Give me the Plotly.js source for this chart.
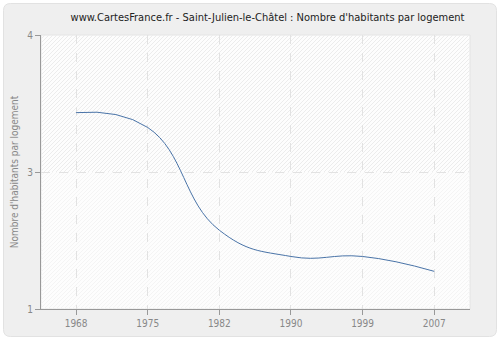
<!DOCTYPE html>
<html>
<head>
<meta charset="utf-8">
<script src="https://cdn.plot.ly/plotly-3.0.1.min.js"></script>
<style>html,body{margin:0;padding:0;background:#fff;}#chart{width:500px;height:340px;}</style>
</head>
<body>
<div id="chart"></div>
<script>
// Data
const years = ['1968', '1975', '1982', '1990', '1999', '2007'];
const habitantsParLogement = [3.12, 2.99, 2.09, 1.86, 1.86, 1.73];
const yTickVals = [1.4, 2.6, 3.8];
const yTickText = ['1', '3', '4'];

const W = 500, H = 340;
const M = {l: 41, r: 30, t: 35, b: 31};
const PW = W - M.l - M.r, PH = H - M.t - M.b;
const xRange = [-0.49, 5.5];
const yRange = [1.4, 3.8];

// pixel -> paper / data helpers (for decorative shapes only)
const px2paperX = px => (px - M.l) / PW;
const py2paperY = py => (H - M.b - py) / PH;
const px2x = px => xRange[0] + (px - M.l) / PW * (xRange[1] - xRange[0]);
const py2y = py => yRange[0] + (H - M.b - py) / PH * (yRange[1] - yRange[0]);

const shapes = [];
// rounded outer panel
(function(){
  const x0 = 3.5, x1 = 496.5, y0 = 3.5, y1 = 336.5, r = 7;
  const X = px2paperX, Y = py2paperY;
  const p = `M ${X(x0+r)},${Y(y0)} L ${X(x1-r)},${Y(y0)} Q ${X(x1)},${Y(y0)} ${X(x1)},${Y(y0+r)} ` +
            `L ${X(x1)},${Y(y1-r)} Q ${X(x1)},${Y(y1)} ${X(x1-r)},${Y(y1)} ` +
            `L ${X(x0+r)},${Y(y1)} Q ${X(x0)},${Y(y1)} ${X(x0)},${Y(y1-r)} ` +
            `L ${X(x0)},${Y(y0+r)} Q ${X(x0)},${Y(y0)} ${X(x0+r)},${Y(y0)} Z`;
  shapes.push({type:'path', xref:'paper', yref:'paper', path:p, fillcolor:'#efefef',
               line:{color:'#e2e2e2', width:1}, layer:'below'});
})();
// plot area background with light border
shapes.push({type:'rect', xref:'paper', yref:'paper', x0:0, x1:1, y0:0, y1:1,
             fillcolor:'#fdfdfd', line:{color:'#e4e4e4', width:1}, layer:'below'});
// hatch pattern in plot area
const midPy = M.t + PH / 2;
function hatch(pyTop, pyBot, color) {
  const h = pyBot - pyTop;
  for (let px = M.l - h; px < W - M.r; px += 4) {
    shapes.push({type:'line', xref:'x', yref:'y', x0:px2x(px), y0:py2y(pyBot), x1:px2x(px+h), y1:py2y(pyTop),
                 line:{color:color, width:1}, layer:'below'});
  }
}
hatch(M.t, midPy, '#ececec');
hatch(midPy, H - M.b, '#f4f4f4');

const trace = {
  x: years, y: habitantsParLogement, type:'scatter', mode:'lines',
  line:{shape:'spline', smoothing:1.3, color:'#4a74a8', width:1},
  hoverinfo:'skip'
};

const font = '"DejaVu Sans Condensed", "DejaVu Sans", sans-serif';
const layout = {
  width: W, height: H,
  margin: M,
  paper_bgcolor: '#ffffff',
  plot_bgcolor: 'rgba(0,0,0,0)',
  showlegend: false,
  title: {text: "www.CartesFrance.fr - Saint-Julien-le-Châtel : Nombre d'habitants par logement",
          font:{family: font, size: 11, color:'#222'},
          x: px2paperX(267.5), xref:'paper', xanchor:'center', y: 1 - 17/H, yanchor:'middle'},
  xaxis: {
    type:'category', range: xRange,
    showgrid:true, gridcolor:'#e2e2e2', griddash:'dash', gridwidth:1,
    showline:true, linecolor:'#999', linewidth:1,
    ticks:'outside', ticklen:5, tickcolor:'#999',
    tickfont:{family: font, size: 10, color:'#888'},
    zeroline:false, fixedrange:true
  },
  yaxis: {
    range: yRange, tickmode:'array', tickvals: yTickVals, ticktext: yTickText,
    showgrid:true, gridcolor:'#e2e2e2', griddash:'dash', gridwidth:1,
    showline:true, linecolor:'#999', linewidth:1,
    ticks:'outside', ticklen:5, tickcolor:'#999',
    tickfont:{family: font, size: 10, color:'#888'},
    title:{text:"Nombre d'habitants par logement", font:{family: font, size: 10, color:'#888'}, standoff: 6},
    zeroline:false, fixedrange:true
  },
  shapes: shapes
};
Plotly.newPlot('chart', [trace], layout, {displayModeBar:false, staticPlot:true});
</script>
</body>
</html>
